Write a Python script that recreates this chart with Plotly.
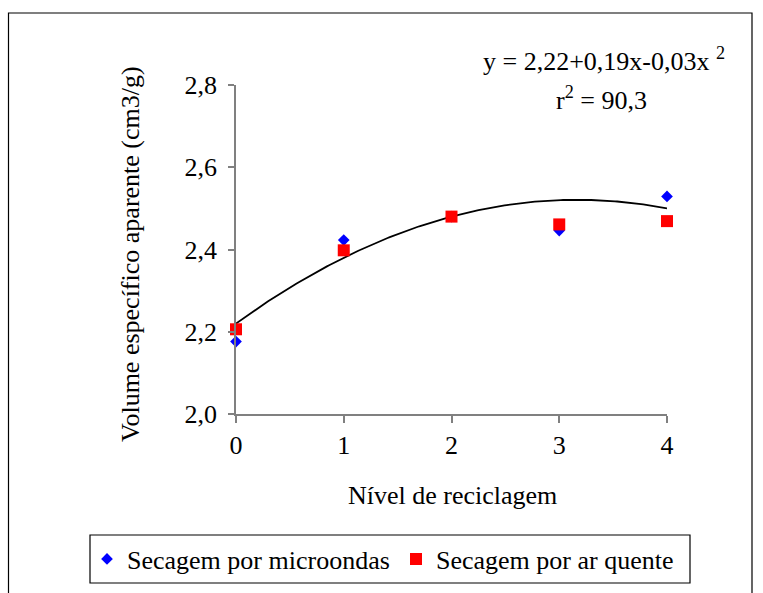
import numpy as np
import plotly.graph_objects as go

# Recycling level (x) and apparent specific volume (cm3/g)
niveis = [0, 1, 2, 3, 4]
microondas = [2.176, 2.423, 2.480, 2.446, 2.529]
ar_quente = [2.206, 2.398, 2.480, 2.461, 2.469]

# Quadratic trend: y = b0 + b1*x + b2*x^2
coef = [2.22, 0.19, -0.03]
y_ticks = [2.0, 2.2, 2.4, 2.6, 2.8]

serif = "Liberation Serif, Times New Roman, serif"
FS = 26

W, H = 763, 593
L, R, T, B = 236, 96, 85, 179
pw, ph = W - L - R, H - T - B

xs = np.linspace(0, 4, 200)
ys = coef[0] + coef[1] * xs + coef[2] * xs ** 2

fig = go.Figure()
fig.add_trace(go.Scatter(x=xs, y=ys, mode="lines",
                         line=dict(color="black", width=1.8),
                         showlegend=False, hoverinfo="skip", cliponaxis=False))
fig.add_trace(go.Scatter(x=niveis, y=microondas, mode="markers",
                         name="Secagem por microondas", legend="legend",
                         marker=dict(symbol="diamond", size=9, color="#0000FF"),
                         cliponaxis=False))
fig.add_trace(go.Scatter(x=niveis, y=ar_quente, mode="markers",
                         name="Secagem por ar quente", legend="legend2",
                         marker=dict(symbol="square", size=12, color="#FF0000"),
                         cliponaxis=False))


def px_x(p):
    return (p - L) / pw


def px_y(p):
    return (H - B - p) / ph


legend_common = dict(orientation="h", xref="container", yref="container",
                      yanchor="middle", xanchor="left", borderwidth=0,
                      bgcolor="rgba(0,0,0,0)",
                      font=dict(family=serif, size=FS), itemwidth=30)

fig.update_layout(
    width=W, height=H, autosize=False,
    margin=dict(l=L, r=R, t=T, b=B, pad=0),
    paper_bgcolor="white", plot_bgcolor="white",
    separators=",.",
    font=dict(family=serif, size=FS, color="black"),
    xaxis=dict(range=[0, 4], tickvals=niveis, showgrid=False, zeroline=False,
               showline=True, linecolor="#808080", linewidth=1.5,
               ticks="outside", ticklen=7, tickcolor="#808080", tickwidth=1.5,
               tickfont=dict(family=serif, size=FS)),
    yaxis=dict(range=[2.0, 2.8], tickvals=y_ticks, tickformat=".1f",
               showgrid=False, zeroline=False,
               showline=True, linecolor="#808080", linewidth=1.5,
               ticks="outside", ticklen=6, tickcolor="#808080", tickwidth=1.5,
               ticklabelstandoff=6,
               tickfont=dict(family=serif, size=FS)),
    legend=dict(legend_common, x=87 / W, y=1 - 559 / H),
    legend2=dict(legend_common, x=396 / W, y=1 - 559 / H),
    shapes=[
        dict(type="rect", xref="paper", yref="paper",
             x0=px_x(8.5), x1=px_x(752), y0=px_y(620), y1=px_y(13),
             line=dict(color="black", width=1.2), fillcolor="rgba(0,0,0,0)",
             layer="below"),
        dict(type="rect", xref="paper", yref="paper",
             x0=px_x(90), x1=px_x(690), y0=px_y(583), y1=px_y(535),
             line=dict(color="black", width=1.2), fillcolor="rgba(0,0,0,0)",
             layer="below"),
    ],
    annotations=[
        dict(text="Volume específico aparente (cm3/g)", textangle=-90,
             xref="paper", yref="paper", x=px_x(131), y=px_y(254),
             xanchor="center", yanchor="middle",
             showarrow=False, font=dict(family=serif, size=FS)),
        dict(text="Nível de reciclagem", xref="paper", yref="paper",
             x=px_x(452), y=px_y(495), xanchor="center", yanchor="middle",
             showarrow=False, font=dict(family=serif, size=FS)),
        dict(text="y = 2,22+0,19x-0,03x <sup>2</sup>", xref="paper", yref="paper",
             x=px_x(604), y=px_y(60), xanchor="center", yanchor="middle",
             showarrow=False, font=dict(family=serif, size=FS)),
        dict(text="r<sup>2</sup> = 90,3", xref="paper", yref="paper",
             x=px_x(601), y=px_y(99), xanchor="center", yanchor="middle",
             showarrow=False, font=dict(family=serif, size=FS)),
    ],
)

fig.write_html("out.html")
